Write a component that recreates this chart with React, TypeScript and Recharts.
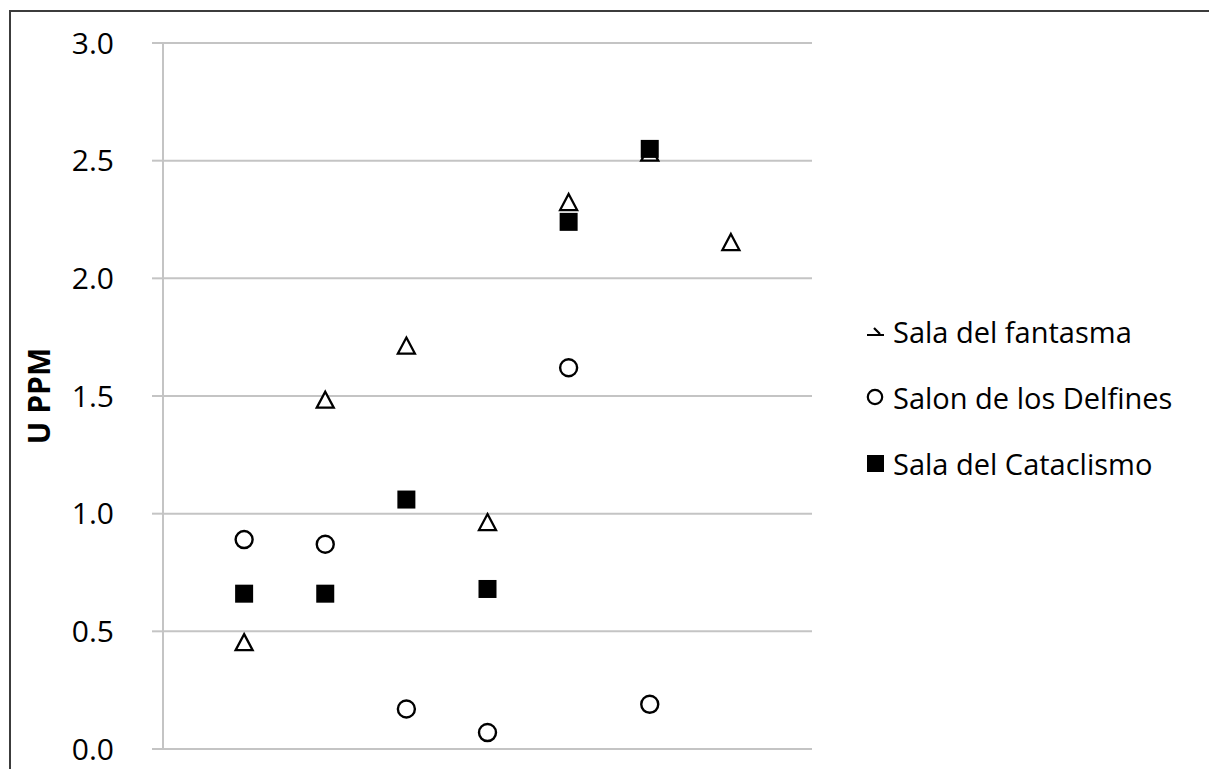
import React from 'react';
import { CartesianGrid, Legend, Scatter, ScatterChart, XAxis, YAxis } from 'recharts';

// sample positions along the x axis (no labels shown)
const samplePos = [1, 2, 3, 4, 5, 6, 7];

const seriesNames = ['Sala del fantasma', 'Salon de los Delfines', 'Sala del Cataclismo'];

// U ppm per sample
const salaFantasma = [0.45, 1.48, 1.71, 0.96, 2.32, 2.53, 2.15];
const salonDelfines = [0.89, 0.87, 0.17, 0.07, 1.62, 0.19, null];
const salaCataclismo = [0.66, 0.66, 1.06, 0.68, 2.24, 2.55, null];

const yTicks = [0, 0.5, 1, 1.5, 2, 2.5, 3];

const toPoints = (vals: (number | null)[]) =>
  samplePos
    .map((x, i) => ({ x, y: vals[i] }))
    .filter((p) => p.y !== null);

const FONT = '"Open Sans", sans-serif';

const Triangle = ({ cx, cy }: any) => (
  <path
    d={`M${cx},${cy - 9} L${cx + 8.5},${cy + 7} L${cx - 8.5},${cy + 7} Z`}
    fill="#fff"
    stroke="#000"
    strokeWidth={2.3}
  />
);

const Circle = ({ cx, cy }: any) => (
  <circle cx={cx} cy={cy} r={8.5} fill="#fff" stroke="#000" strokeWidth={2.4} />
);

const Square = ({ cx, cy }: any) => (
  <rect x={cx - 9} y={cy - 9} width={18} height={18} fill="#000" />
);

const legendIcons: Record<string, React.ReactNode> = {
  'Sala del fantasma': (
    <path d="M3,15 L20,15 M10,8 L16,14" stroke="#000" strokeWidth={2.2} fill="none" />
  ),
  'Salon de los Delfines': <circle cx={11} cy={11} r={7.2} fill="none" stroke="#000" strokeWidth={2.2} />,
  'Sala del Cataclismo': <rect x={3} y={3} width={17} height={17} fill="#000" />,
};

const LegendBox = () => (
  <div>
    {seriesNames.map((name) => (
      <div
        key={name}
        style={{ display: 'flex', alignItems: 'center', height: 66, fontFamily: FONT, fontSize: 29, fontWeight: 500, color: '#000' }}
      >
        <svg width={23} height={22} style={{ marginRight: 6 }}>
          {legendIcons[name]}
        </svg>
        <span>{name}</span>
      </div>
    ))}
  </div>
);

export default function App() {
  return (
    <div style={{ position: 'fixed', left: 0, top: 0, width: 1209, height: 769, background: '#fff', overflow: 'hidden' }}>
      <div
        style={{
          position: 'absolute',
          left: 9,
          top: 10,
          width: 1400,
          height: 1000,
          border: '2px solid #3c3c3c',
        }}
      />
      <div style={{ position: 'absolute', left: 0, top: 0 }}>
        <ScatterChart width={1209} height={769} margin={{ top: 43, right: 397, bottom: 20, left: 0 }}>
          <CartesianGrid vertical={false} stroke="#c4c4c4" strokeWidth={2} />
          <XAxis type="number" dataKey="x" domain={[0, 8]} hide />
          <YAxis
            type="number"
            dataKey="y"
            domain={[0, 3]}
            ticks={yTicks}
            width={163}
            tickFormatter={(v: number) => v.toFixed(1)}
            tick={{ fontFamily: FONT, fontSize: 30, fontWeight: 500, fill: '#000' }}
            tickSize={11}
            tickMargin={38}
            stroke="#c4c4c4"
            strokeWidth={2}
            label={{
              value: 'U PPM',
              angle: -90,
              position: 'center',
              dx: -42,
              style: { fontFamily: FONT, fontSize: 30, fontWeight: 700, fill: '#000' },
            }}
          />
          <Legend
            layout="vertical"
            align="center"
            verticalAlign="middle"
            content={<LegendBox />}
            wrapperStyle={{ left: 864, top: 298, width: 340 }}
          />
          <Scatter name={seriesNames[0]} data={toPoints(salaFantasma)} shape={<Triangle />} isAnimationActive={false} />
          <Scatter name={seriesNames[1]} data={toPoints(salonDelfines)} shape={<Circle />} isAnimationActive={false} />
          <Scatter name={seriesNames[2]} data={toPoints(salaCataclismo)} shape={<Square />} isAnimationActive={false} />
        </ScatterChart>
      </div>
    </div>
  );
}
